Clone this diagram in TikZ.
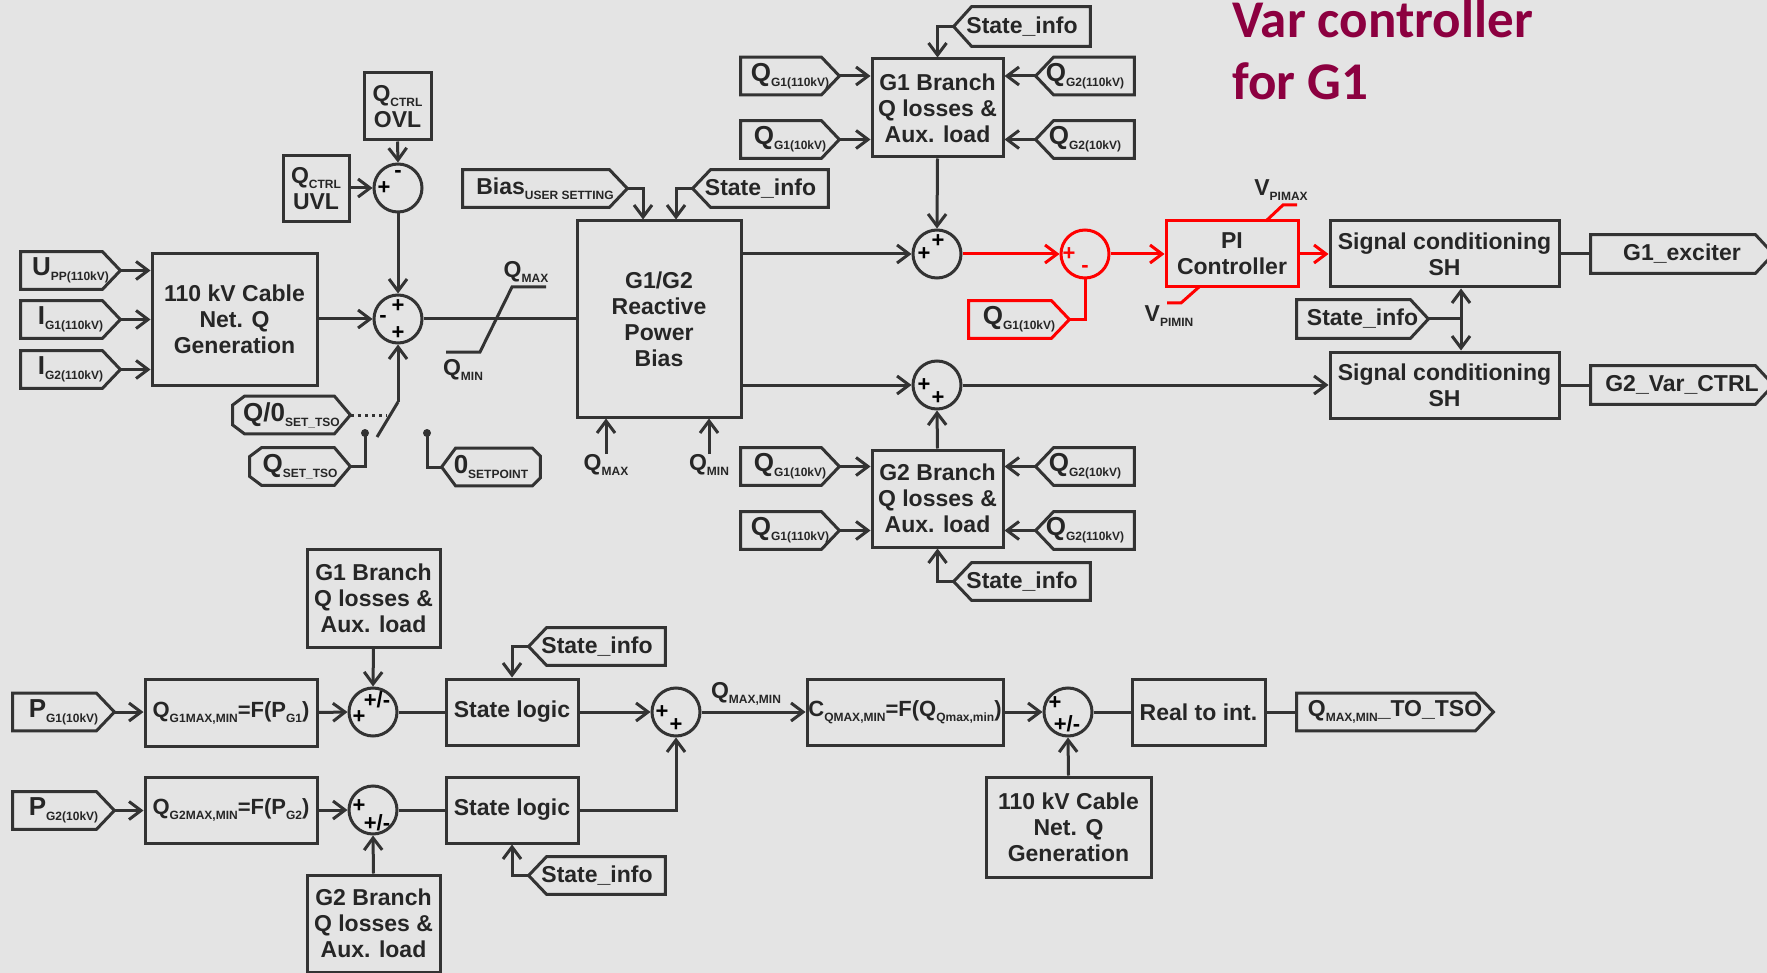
\documentclass[tikz,border=0pt]{standalone}
\usepackage{fontspec}
\setmainfont{Liberation Sans}
\newfontfamily\titlefont{Carlito}
\usetikzlibrary{arrows.meta,calc}

\definecolor{bgc}{RGB}{228,228,228}
\definecolor{ink}{RGB}{51,51,51}
\definecolor{txt}{RGB}{38,38,38}
\definecolor{redc}{RGB}{255,0,0}
\definecolor{titlec}{RGB}{140,0,64}

\newcommand\lowsub[1]{\raisebox{-2.5pt}{\fontsize{6}{6.5}\selectfont #1}}
\newcommand\boxfont{\fontsize{11.5}{13}\selectfont\bfseries}
\newcommand\fnfont{\fontsize{11}{13}\selectfont\bfseries}
\newcommand\tagfont{\fontsize{11.5}{13}\selectfont\bfseries}
\newcommand\symfont{\fontsize{13}{14}\selectfont\bfseries}
\newcommand\signfont{\fontsize{11}{11}\selectfont\bfseries}
\newcommand\lblfont{\fontsize{11.5}{13}\selectfont\bfseries}

% signal tag outlines drawn around a named node
\newcommand\tagE[2][ink]{\draw[tagline,draw=#1] (#2.north west) -- ([xshift=-9pt]#2.north east) -- (#2.east) -- ([xshift=-9pt]#2.south east) -- (#2.south west) -- cycle;}
\newcommand\tagW[2][ink]{\draw[tagline,draw=#1] (#2.north east) -- ([xshift=9pt]#2.north west) -- (#2.west) -- ([xshift=9pt]#2.south west) -- (#2.south east) -- cycle;}
\newcommand\tagBE[1]{\draw[tagline] ([xshift=6pt]#1.north west) -- ([xshift=-8pt]#1.north east) -- (#1.east) -- ([xshift=-8pt]#1.south east) -- ([xshift=6pt]#1.south west) -- ([yshift=4.5pt]#1.south west) -- ([yshift=-4.5pt]#1.north west) -- cycle;}
\newcommand\tagBW[1]{\draw[tagline] ([xshift=7pt]#1.north west) -- ([xshift=-4pt]#1.north east) -- ([yshift=-4pt]#1.north east) -- ([yshift=4pt]#1.south east) -- ([xshift=-4pt]#1.south east) -- ([xshift=7pt]#1.south west) -- (#1.west) -- cycle;}

\tikzset{
  box/.style={rectangle, draw=ink, line width=1.5pt, inner sep=0pt, align=center, font=\boxfont, text=txt},
  fnbox/.style={box, font=\fnfont},
  tagn/.style={rectangle, inner sep=0pt, minimum height=18.5pt, font=\tagfont, text=txt},
  symtag/.style={tagn, font=\symfont},
  tagline/.style={draw=ink, line width=1.5pt, line join=miter},
  sumc/.style={circle, draw=ink, line width=1.5pt, minimum size=24pt, inner sep=0pt},
  sign/.style={font=\signfont, text=black, inner sep=0pt},
  lbl/.style={font=\lblfont, text=txt, inner sep=0pt},
  wire/.style={draw=ink, line width=1.5pt},
  arr/.style={wire, -{Straight Barb[length=6pt,width=9pt]}},
  rwire/.style={draw=redc, line width=1.5pt},
  rarr/.style={rwire, -{Straight Barb[length=6pt,width=9pt]}},
  dot/.style={circle, fill=ink, inner sep=0pt, minimum size=4pt},
  titletxt/.style={font=\titlefont\fontsize{26.5}{31}\selectfont\bfseries, text=titlec, inner sep=0pt}
}

\begin{document}
\begin{tikzpicture}[x=0.5pt,y=-0.5pt]
\fill[bgc] (0,0) rectangle (1767,973);
\useasboundingbox (0,0) rectangle (1767,973);

% ---------- title ----------
\node[titletxt, anchor=base west] (title1) at (1232,38) {Var controller};
\node[titletxt, anchor=base west] (title2) at (1232,100) {for G1};

% ---------- reactive power reference ----------
\node[box, minimum width=33.5pt, minimum height=33.5pt] (ovl) at (397.5,106.5) {Q\lowsub{CTRL}\\OVL};
\node[box, minimum width=33pt, minimum height=33pt] (uvl) at (316,189) {Q\lowsub{CTRL}\\UVL};
\node[sumc] (sum1) at (398,188) {};
\node[sumc] (sum2) at (398,319) {};
\node[box, minimum width=82.5pt, minimum height=65.5pt] (cable1) at (234.5,319.5) {110 kV Cable\\Net. Q\\Generation};
\node[symtag, minimum width=49.5pt] (upp) at (70.5,270.5) {U\lowsub{PP(110kV)}};
\node[symtag, minimum width=49.5pt] (ig1) at (70.5,319.5) {I\lowsub{G1(110kV)}};
\node[symtag, minimum width=49.5pt] (ig2) at (70.5,369.5) {I\lowsub{G2(110kV)}};
\node[symtag, minimum width=58.5pt] (q0) at (291.5,415) {Q/0\lowsub{SET\_TSO}};
\node[symtag, minimum width=50pt] (qset) at (300,466.5) {Q\lowsub{SET\_TSO}};
\node[symtag, minimum width=49pt] (zero) at (491,467) {0\lowsub{SETPOINT}};
\node[lbl] (qmaxl) at (526,272) {Q\lowsub{MAX}};
\node[lbl] (qminl) at (463,370) {Q\lowsub{MIN}};
\node[dot] (dot1) at (365,433) {};
\node[dot] (dot2) at (427,433) {};
\coordinate (swa) at (398,402);
\coordinate (swb) at (377,437);
\coordinate (swmid) at (387,415);

% ---------- bias block ----------
\node[box, minimum width=82pt, minimum height=98pt] (rpb) at (659,319) {G1/G2\\Reactive\\Power\\Bias};
\node[tagn, minimum width=82pt] (bias) at (545,188.5) {Bias\lowsub{USER SETTING}};
\node[tagn, minimum width=67.5pt] (st1) at (760.5,188.5) {State\_info};
\node[lbl] (qmaxb) at (606,465) {Q\lowsub{MAX}};
\node[lbl] (qminb) at (709,465) {Q\lowsub{MIN}};

% ---------- branch losses ----------
\node[box, minimum width=65.5pt, minimum height=49pt] (g1br) at (937.5,108) {G1 Branch\\Q losses \&\\Aux. load};
\node[tagn, minimum width=68pt, minimum height=19.5pt] (sttop) at (1022,26.5) {State\_info};
\node[symtag, minimum width=49pt] (qa) at (790,76) {Q\lowsub{G1(110kV)}};
\node[symtag, minimum width=49pt] (qb) at (790,139.5) {Q\lowsub{G1(10kV)}};
\node[symtag, minimum width=49pt] (qc) at (1085,76) {Q\lowsub{G2(110kV)}};
\node[symtag, minimum width=49pt] (qd) at (1085,139.5) {Q\lowsub{G2(10kV)}};
\node[sumc] (sum3) at (937,254) {};
\node[sumc] (sum4) at (937,385) {};
\node[box, minimum width=65.5pt, minimum height=48.5pt] (g2br) at (937.5,498.5) {G2 Branch\\Q losses \&\\Aux. load};
\node[symtag, minimum width=49pt] (qe) at (790,466.5) {Q\lowsub{G1(10kV)}};
\node[symtag, minimum width=49pt] (qf) at (790,530.5) {Q\lowsub{G1(110kV)}};
\node[symtag, minimum width=49pt] (qg) at (1085,466.5) {Q\lowsub{G2(10kV)}};
\node[symtag, minimum width=49pt] (qh) at (1085,530.5) {Q\lowsub{G2(110kV)}};
\node[tagn, minimum width=68pt] (stg2) at (1022,581.5) {State\_info};

% ---------- PI loop ----------
\node[sumc, draw=redc] (sum5) at (1085,254) {};
\node[symtag, minimum width=50pt] (qr) at (1019,319.5) {Q\lowsub{G1(10kV)}};
\node[box, draw=redc, minimum width=66pt, minimum height=33pt] (pi) at (1232,254) {PI\\Controller};
\node[lbl] (vmax) at (1281,190) {V\lowsub{PIMAX}};
\node[lbl] (vmin) at (1169,316) {V\lowsub{PIMIN}};

% ---------- output conditioning ----------
\node[box, minimum width=114.5pt, minimum height=33pt] (sc1) at (1444.5,254) {Signal conditioning\\SH};
\node[box, minimum width=114.5pt, minimum height=33pt] (sc2) at (1444.5,385) {Signal conditioning\\SH};
\node[tagn, minimum width=91pt, minimum height=19pt] (g1ex) at (1682,254) {G1\_exciter};
\node[tagn, minimum width=91pt, minimum height=19pt] (g2var) at (1682,385) {G2\_Var\_CTRL};
\node[tagn, minimum width=65.5pt, minimum height=19pt] (stmid) at (1362.5,319) {State\_info};
\coordinate (jn) at (1461,319);

% ---------- capability chain ----------
\node[box, minimum width=66.5pt, minimum height=49pt] (bg1br) at (373.5,598) {G1 Branch\\Q losses \&\\Aux. load};
\node[symtag, minimum width=50.5pt] (pg1) at (63.5,712) {P\lowsub{G1(10kV)}};
\node[fnbox, minimum width=86pt, minimum height=33.5pt] (fq1) at (231,712.5) {Q\lowsub{G1MAX,MIN}=F(P\lowsub{G1})};
\node[sumc] (sum6) at (373,712) {};
\node[box, minimum width=66pt, minimum height=33pt] (sl1) at (512,712) {State logic};
\node[tagn, minimum width=68pt] (stb1) at (597,646.5) {State\_info};
\node[sumc] (sum7) at (676,712) {};
\node[symtag, minimum width=50.5pt] (pg2) at (63.5,810.5) {P\lowsub{G2(10kV)}};
\node[fnbox, minimum width=86pt, minimum height=33pt] (fq2) at (231,810) {Q\lowsub{G2MAX,MIN}=F(P\lowsub{G2})};
\node[sumc] (sum8) at (373,810) {};
\node[box, minimum width=66.5pt, minimum height=48.5pt] (bg2br) at (373.5,923.5) {G2 Branch\\Q losses \&\\Aux. load};
\node[box, minimum width=66pt, minimum height=33pt] (sl2) at (512,810) {State logic};
\node[tagn, minimum width=68pt] (stb2) at (597,875.5) {State\_info};
\node[lbl] (qmml) at (746,694) {Q\lowsub{MAX,MIN}};
\node[fnbox, minimum width=98pt, minimum height=33pt] (cq) at (905,712) {C\lowsub{QMAX,MIN}=F(Q\lowsub{Qmax,min})};
\node[sumc] (sum9) at (1068,712) {};
\node[box, minimum width=66.5pt, minimum height=33pt] (rti) at (1198.5,712) {Real to int.};
\node[tagn, minimum width=98pt] (tso) at (1395,712) {Q\lowsub{MAX,MIN}\_TO\_TSO};
\node[box, minimum width=82.5pt, minimum height=50pt] (cable2) at (1068.5,827) {110 kV Cable\\Net. Q\\Generation};

% ---------- tag outlines ----------
\tagE{upp} \tagE{ig1} \tagE{ig2}
\tagBE{q0} \tagBE{qset} \tagBW{zero}
\tagE{bias} \tagW{st1}
\tagW{sttop} \tagE{qa} \tagE{qb} \tagW{qc} \tagW{qd}
\tagE{qe} \tagE{qf} \tagW{qg} \tagW{qh} \tagW{stg2}
\tagE[redc]{qr}
\tagE{g1ex} \tagE{g2var} \tagE{stmid}
\tagE{pg1} \tagE{pg2} \tagW{stb1} \tagW{stb2} \tagE{tso}

% ---------- summing junction signs ----------
\node[sign] (s1a) at ([shift={(-14,0)}]sum1.center) {+};
\node[sign] (s1b) at ([shift={(0,-14)}]sum1.center) {-};
\node[sign] (s2a) at ([shift={(0,-13)}]sum2.center) {+};
\node[sign] (s2b) at ([shift={(-15,0)}]sum2.center) {-};
\node[sign] (s2c) at ([shift={(0,14)}]sum2.center) {+};
\node[sign] (s3a) at ([shift={(1,-13)}]sum3.center) {+};
\node[sign] (s3b) at ([shift={(-13,0)}]sum3.center) {+};
\node[sign] (s4a) at ([shift={(-13,0)}]sum4.center) {+};
\node[sign] (s4b) at ([shift={(1,13)}]sum4.center) {+};
\node[sign, text=redc] (s5a) at ([shift={(-16,0)}]sum5.center) {+};
\node[sign, text=redc] (s5b) at ([shift={(0,15)}]sum5.center) {-};
\node[sign] (s6a) at ([shift={(4,-12)}]sum6.center) {+/-};
\node[sign] (s6b) at ([shift={(-14,5)}]sum6.center) {+};
\node[sign] (s7a) at ([shift={(-14,0)}]sum7.center) {+};
\node[sign] (s7b) at ([shift={(0,13)}]sum7.center) {+};
\node[sign] (s8a) at ([shift={(-14,-4)}]sum8.center) {+};
\node[sign] (s8b) at ([shift={(4,13)}]sum8.center) {+/-};
\node[sign] (s9a) at ([shift={(-13,-9)}]sum9.center) {+};
\node[sign] (s9b) at ([shift={(-1,12)}]sum9.center) {+/-};

% ---------- connectors: reference path ----------
\draw[arr] (ovl.south) -- (sum1.north);
\draw[arr] (sum1.west -| uvl.east) -- (sum1.west);
\draw[arr] (sum1.south) -- (sum2.north);
\draw[arr] (sum2.west -| cable1.east) -- (sum2.west);
\draw[arr] (upp.east) -- (upp.east -| cable1.west);
\draw[arr] (ig1.east) -- (ig1.east -| cable1.west);
\draw[arr] (ig2.east) -- (ig2.east -| cable1.west);
\draw[wire] (sum2.east) -- (sum2.east -| rpb.west);
% limiter symbol
\draw[wire] (446,352) -- (480,352) -- (512,287) -- (546,287);
% setpoint selector switch
\draw[wire, dash pattern=on 1.6pt off 2pt] (q0.east) -- (swmid);
\draw[wire] (swb) -- (swa);
\draw[arr] (swa) -- (sum2.south);
\draw[wire] (qset.east) -| (dot1.center);
\draw[wire] (dot2.center) |- (zero.west);

% ---------- connectors: bias and branches ----------
\draw[arr] (bias.east) -| ([xshift=-8pt]rpb.north);
\draw[arr] (st1.west) -| ([xshift=8.5pt]rpb.north);
\draw[arr] (qmaxb.north) -- (qmaxb.north |- rpb.south);
\draw[arr] (qminb.north) -- (qminb.north |- rpb.south);
\draw[arr] (sttop.west) -| (g1br.north);
\draw[arr] (qa.east) -- (qa.east -| g1br.west);
\draw[arr] (qb.east) -- (qb.east -| g1br.west);
\draw[arr] (qc.west) -- (qc.west -| g1br.east);
\draw[arr] (qd.west) -- (qd.west -| g1br.east);
\draw[arr] (g1br.south) -- (sum3.north);
\draw[arr] (sum3.west -| rpb.east) -- (sum3.west);
\draw[arr] (sum4.west -| rpb.east) -- (sum4.west);
\draw[arr] (g2br.north) -- (sum4.south);
\draw[arr] (qe.east) -- (qe.east -| g2br.west);
\draw[arr] (qf.east) -- (qf.east -| g2br.west);
\draw[arr] (qg.west) -- (qg.west -| g2br.east);
\draw[arr] (qh.west) -- (qh.west -| g2br.east);
\draw[arr] (stg2.west) -| (g2br.south);

% ---------- connectors: PI loop ----------
\draw[rarr] (sum3.east) -- (sum5.west);
\draw[rwire] (qr.east) -| (sum5.south);
\draw[rarr] (sum5.east) -- (pi.west);
\draw[rarr] (pi.east) -- (sc1.west);
\draw[rwire] (1266,221) -- (1283,205) -- (1297,205);
\draw[rwire] (1199,287) -- (1181,303) -- (1167,303);

% ---------- connectors: outputs ----------
\draw[arr] (sum4.east) -- (sc2.west);
\draw[wire] (sc1.east) -- (g1ex.west);
\draw[wire] (sc2.east) -- (g2var.west);
\draw[wire] (stmid.east) -- (jn);
\draw[arr] (jn) -- (jn |- sc1.south);
\draw[arr] (jn) -- (jn |- sc2.north);

% ---------- connectors: capability chain ----------
\draw[arr] (pg1.east) -- (pg1.east -| fq1.west);
\draw[arr] (fq1.east) -- (sum6.west);
\draw[arr] (bg1br.south) -- (sum6.north);
\draw[wire] (sum6.east) -- (sl1.west);
\draw[arr] (stb1.west) -| (sl1.north);
\draw[arr] (sl1.east) -- (sum7.west);
\draw[arr] (pg2.east) -- (pg2.east -| fq2.west);
\draw[arr] (fq2.east) -- (sum8.west);
\draw[arr] (bg2br.north) -- (sum8.south);
\draw[wire] (sum8.east) -- (sl2.west);
\draw[arr] (stb2.west) -| (sl2.south);
\draw[arr] (sl2.east) -| (sum7.south);
\draw[arr] (sum7.east) -- (cq.west);
\draw[arr] (cq.east) -- (sum9.west);
\draw[arr] (cable2.north) -- (sum9.south);
\draw[wire] (sum9.east) -- (rti.west);
\draw[wire] (rti.east) -- (tso.west);
\end{tikzpicture}
\end{document}
